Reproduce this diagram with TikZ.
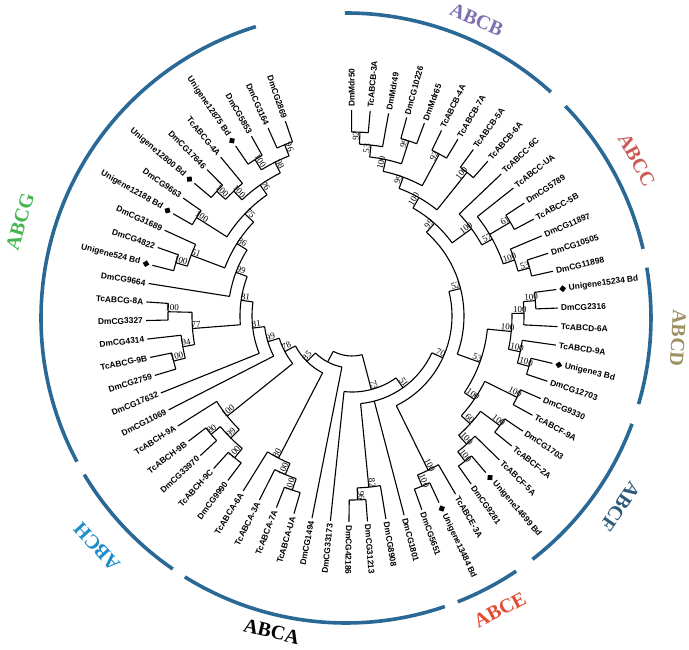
\documentclass[tikz,border=0pt]{standalone}
\usepackage{fontspec}
\setmainfont{Liberation Serif}
\newfontfamily\taxonfont{Liberation Sans}
\usepackage{tikz}
\usetikzlibrary{shapes.geometric}
\tikzset{
  branch/.style={black, line width=1.1pt},
  cladearc/.style={color=arcblue, line width=3.6pt},
  taxon/.style={font=\taxonfont\bfseries\fontsize{8.4}{9}\selectfont, inner sep=0.5pt},
  bootval/.style={font=\fontsize{9}{10}\selectfont, inner sep=0.6pt},
  unimark/.style={diamond, fill=black, inner sep=0pt, minimum size=7pt},
  cladename/.style={font=\bfseries\fontsize{20}{22}\selectfont, inner sep=0pt},
}

\begin{document}
\begin{tikzpicture}[x=1pt, y=1pt]
% Defining colors
\definecolor{arcblue}{RGB}{42,104,150}
\definecolor{colB}{RGB}{126,110,176}
\definecolor{colC}{RGB}{205,90,85}
\definecolor{colD}{RGB}{158,145,100}
\definecolor{colF}{RGB}{45,90,120}
\definecolor{colE}{RGB}{228,75,50}
\definecolor{colA}{RGB}{0,0,0}
\definecolor{colH}{RGB}{30,140,200}
\definecolor{colG}{RGB}{70,180,80}

% tree centre at the origin
\useasboundingbox (-352,-334) rectangle (337,316);

% =:=:=:=:=:=:=:=:=:=:=:=:=:=:=:=:=:=:=
% Internal nodes: name/angle/radius/parent radius/first/last child/bootstrap
% =:=:=:=:=:=:=:=:=:=:=:=:=:=:=:=:=:=:=
\foreach \nm/\a/\r/\pr/\fa/\la/\bs in {
    n92a/87.515/184/172/90.10/84.93/92,
    n53b/83.64/172/160/87.515/79.76/53,
    n99c/72.005/184/160/74.59/69.42/99,
    n100i/77.82/160/148/83.64/72.005/100,
    n92c/61.665/184/148/64.25/59.08/92,
    n99d/69.74/148/136/77.82/61.665/99,
    n100j/51.325/184/136/53.91/48.74/100,
    n100k/60.53/136/124/69.74/51.325/100,
    n61/30.645/184/160/33.23/28.06/61,
    n53c/15.135/184/172/17.72/12.55/53,
    n100l/19.01/172/160/22.89/15.135/100,
    n57/28.705/160/148/38.40/19.01/57,
    n100m/36.14/148/124/43.57/28.705/100,
    n99e/48.335/124/112/60.53/36.14/99,
    n100o/4.795/184/172/7.38/2.21/100,
    n100p/0.9175/172/160/4.795/-2.96/100,
    n100q/-15.885/184/172/-13.30/-18.47/100,
    n100r/-12.0075/172/160/-8.13/-15.885/100,
    n100s/-5.545/160/136/0.9175/-12.0075/100,
    n100t/-26.225/184/148/-23.64/-28.81/100,
    n100u/-36.565/184/160/-33.98/-39.15/100,
    n100w/-52.075/184/172/-49.49/-54.66/100,
    n100v/-48.1975/172/160/-44.32/-52.075/100,
    n60/-42.38/160/148/-36.565/-48.1975/60,
    n100x/-34.30/148/136/-26.225/-42.38/100,
    n53d/-19.92/136/112/-5.545/-34.30/53,
    n52/14.21/112/100/48.335/-19.92/52,
    n100z/-67.585/184/172/-65.00/-70.17/100,
    n100y/-63.71/172/100/-59.83/-67.585/100,
    n70/-24.75/100/88/14.21/-63.71/70,
    n96b/-88.265/184/172/-85.68/-90.85/96,
    n82/-84.39/172/88/-80.51/-88.265/82,
    n51r/-54.57/88/76/-24.75/-84.39/51,
    n73/-75.295/76/40/-54.57/-96.02/73,
    n100aa/-108.945/184/172/-106.36/-111.53/100,
    n100ab/-112.82/172/160/-108.945/-116.70/100,
    n80/-117.345/160/64/-112.82/-121.87/80,
    n100h2/-129.625/184/172/-127.04/-132.21/100,
    n80h/-139.965/184/172/-137.38/-142.55/80,
    n99h/-134.795/172/160/-129.625/-139.965/99,
    n100h/-141.2575/160/76/-134.795/-147.72/100,
    n100a/-165.815/184/172/-163.23/-168.40/100,
    n94/-169.69/172/160/-165.815/-173.57/94,
    n100b/-181.325/184/160/-178.74/-183.91/100,
    n77/-175.51/160/112/-169.69/-181.325/77,
    n100c/-196.835/184/172/-194.25/-199.42/100,
    n51g/-200.71/172/136/-196.835/-204.59/51,
    n100d/-212.345/184/148/-209.76/-214.93/100,
    n100e/-222.685/184/172/-220.10/-225.27/100,
    n100f/-226.5625/172/160/-222.685/-230.44/100,
    n100g/-238.195/184/172/-235.61/-240.78/100,
    n96/-248.535/184/172/-245.95/-251.12/96,
    n98/-243.365/172/160/-238.195/-248.535/98,
    n76/-234.96/160/148/-226.5625/-243.365/76,
    n75/-223.65/148/136/-212.345/-234.96/75,
    n86/-212.18/136/124/-200.71/-223.65/86,
    n99a/-200.63/124/112/-189.08/-212.18/99,
    n81a/-188.07/112/100/-175.51/-200.63/81,
    n81b/-173.065/100/88/-158.06/-188.07/81,
    n99b/-162.98/88/76/-152.89/-173.065/99,
    n78/-152.12/76/64/-141.2575/-162.98/78,
    n85/-134.73/64/52/-117.345/-152.12/85,
    nL/-117.96/52/40/-101.19/-134.73/{},
    root/-96.63/40/40/-75.295/-117.96/{}}{
  \draw[branch] (\a:\pr) -- (\a:\r) coordinate (\nm);
  \draw[branch] (\fa:\r) arc[start angle=\fa, end angle=\la, radius=\r];
  \pgfmathtruncatemacro\flip{cos(\a) < (-0.05)}
  \pgfmathsetmacro\rr{\r-4}
  \ifnum\flip=1 \pgfmathsetmacro\rot{\a+180}\else \let\rot\a\fi
  \node[bootval, rotate=\rot, anchor=south] (b\nm) at (\a:\rr) {\bs};
}

% =:=:=:=:=:=:=:=:=:=:=:=:=:=:=:=:=:=:=
% Leaves: index/parent radius/name/unigene marker
% =:=:=:=:=:=:=:=:=:=:=:=:=:=:=:=:=:=:=
\foreach \i/\pr/\lab/\uni in {
    0/184/DmMdr50/0, 1/184/TcABCB-3A/0, 2/172/DmMdr49/0,
    3/184/DmCG10226/0, 4/184/DmMdr65/0, 5/184/TcABCB-4A/0,
    6/184/TcABCB-7A/0, 7/184/TcABCB-5A/0, 8/184/TcABCB-6A/0,
    9/148/TcABCC-6C/0, 10/160/TcABCC-UA/0, 11/184/DmCG5789/0,
    12/184/TcABCC-5B/0, 13/172/DmCG11897/0, 14/184/DmCG10505/0,
    15/184/DmCG11898/0, 16/184/Unigene15234 Bd/1, 17/184/DmCG2316/0,
    18/172/TcABCD-6A/0, 19/172/TcABCD-9A/0, 20/184/Unigene3 Bd/1,
    21/184/DmCG12703/0, 22/184/DmCG9330/0, 23/184/TcABCF-9A/0,
    24/184/DmCG1703/0, 25/184/TcABCF-2A/0, 26/172/TcABCF-5A/0,
    27/184/Unigene14699 Bd/1, 28/184/DmCG9281/0, 29/172/TcABCE-3A/0,
    30/184/Unigene13484 Bd/1, 31/184/DmCG5651/0, 32/88/DmCG1801/0,
    33/172/DmCG8908/0, 34/184/DmCG31213/0, 35/184/DmCG42186/0,
    36/76/DmCG33173/0, 37/52/DmCG1494/0, 38/184/TcABCA-UA/0,
    39/184/TcABCA-7A/0, 40/172/TcABCA-3A/0, 41/160/TcABCA-6A/0,
    42/184/DmCG9990/0, 43/184/TcABCH-9C/0, 44/184/DmCG33970/0,
    45/184/TcABCH-9B/0, 46/160/TcABCH-9A/0, 47/88/DmCG11069/0,
    48/100/DmCG17632/0, 49/184/DmCG2759/0, 50/184/TcABCG-9B/0,
    51/172/DmCG4314/0, 52/184/DmCG3327/0, 53/184/TcABCG-8A/0,
    54/124/DmCG9664/0, 55/184/Unigene524 Bd/1, 56/184/DmCG4822/0,
    57/172/DmCG31689/0, 58/184/Unigene12188 Bd/1, 59/184/DmCG9663/0,
    60/184/Unigene12800 Bd/1, 61/184/DmCG17646/0, 62/172/TcABCG-4A/0,
    63/184/Unigene12875 Bd/1, 64/184/DmCG5853/0, 65/184/DmCG3164/0,
    66/184/DmCG2869/0}{
  \pgfmathsetmacro\a{90.1-5.17*\i}
  \draw[branch] (\a:\pr) -- (\a:206) coordinate (l\i);
  \pgfmathtruncatemacro\flip{cos(\a) < (-0.05)}
  \ifnum\flip=1 \pgfmathsetmacro\rot{\a+180}\def\anc{east}%
  \else \let\rot\a\def\anc{west}\fi
  \ifnum\uni=1
    \node[unimark, rotate=\a] (m\i) at (\a:212.5) {};
    \node[taxon, rotate=\rot, anchor=\anc] (t\i) at (\a:218) {\lab};
  \else
    \node[taxon, rotate=\rot, anchor=\anc] (t\i) at (\a:208.5) {\lab};
  \fi
}

% =:=:=:=:=:=:=:=:=:=:=:=:=:=:=:=:=:=:=
% Subfamily arcs
% =:=:=:=:=:=:=:=:=:=:=:=:=:=:=:=:=:=:=
\begin{scope}[shift={(-6,-2)}]
\draw[cladearc] (90.2:305) arc[start angle=90.2, end angle=47.8, radius=305];
\draw[cladearc] (44:305) arc[start angle=44, end angle=13.1, radius=305];
\draw[cladearc] (9.5:305) arc[start angle=9.5, end angle=-16.4, radius=305];
\draw[cladearc] (-20.3:305) arc[start angle=-20.3, end angle=-52.3, radius=305];
\draw[cladearc] (-56.1:305) arc[start angle=-56.1, end angle=-68.5, radius=305];
\draw[cladearc] (-71.1:305) arc[start angle=-71.1, end angle=-121.9, radius=305];
\draw[cladearc] (-124.6:305) arc[start angle=-124.6, end angle=-149.1, radius=305];
\draw[cladearc] (-151.9:305) arc[start angle=-151.9, end angle=-252.8, radius=305];
\end{scope}

% subfamily names
\node[cladename, text=colB, rotate=-23.7] (cB) at (124.7,296) {ABCB};
\node[cladename, text=colC, rotate=-61.5] (cC) at (284.7,156) {ABCC};
\node[cladename, text=colD, rotate=-93.4] (cD) at (326,-22) {ABCD};
\node[cladename, text=colF, rotate=-124.5] (cF) at (268,-190.7) {ABCF};
\node[cladename, text=colE, rotate=27.8] (cE) at (148,-294) {ABCE};
\node[cladename, text=colA, rotate=-13.3] (cA) at (-80.3,-315.7) {ABCA};
\node[cladename, text=colH, rotate=132.5] (cH) at (-255.3,-230.7) {ABCH};
\node[cladename, text=colG, rotate=73.5] (cG) at (-332,94.3) {ABCG};

\end{tikzpicture}
\end{document}
